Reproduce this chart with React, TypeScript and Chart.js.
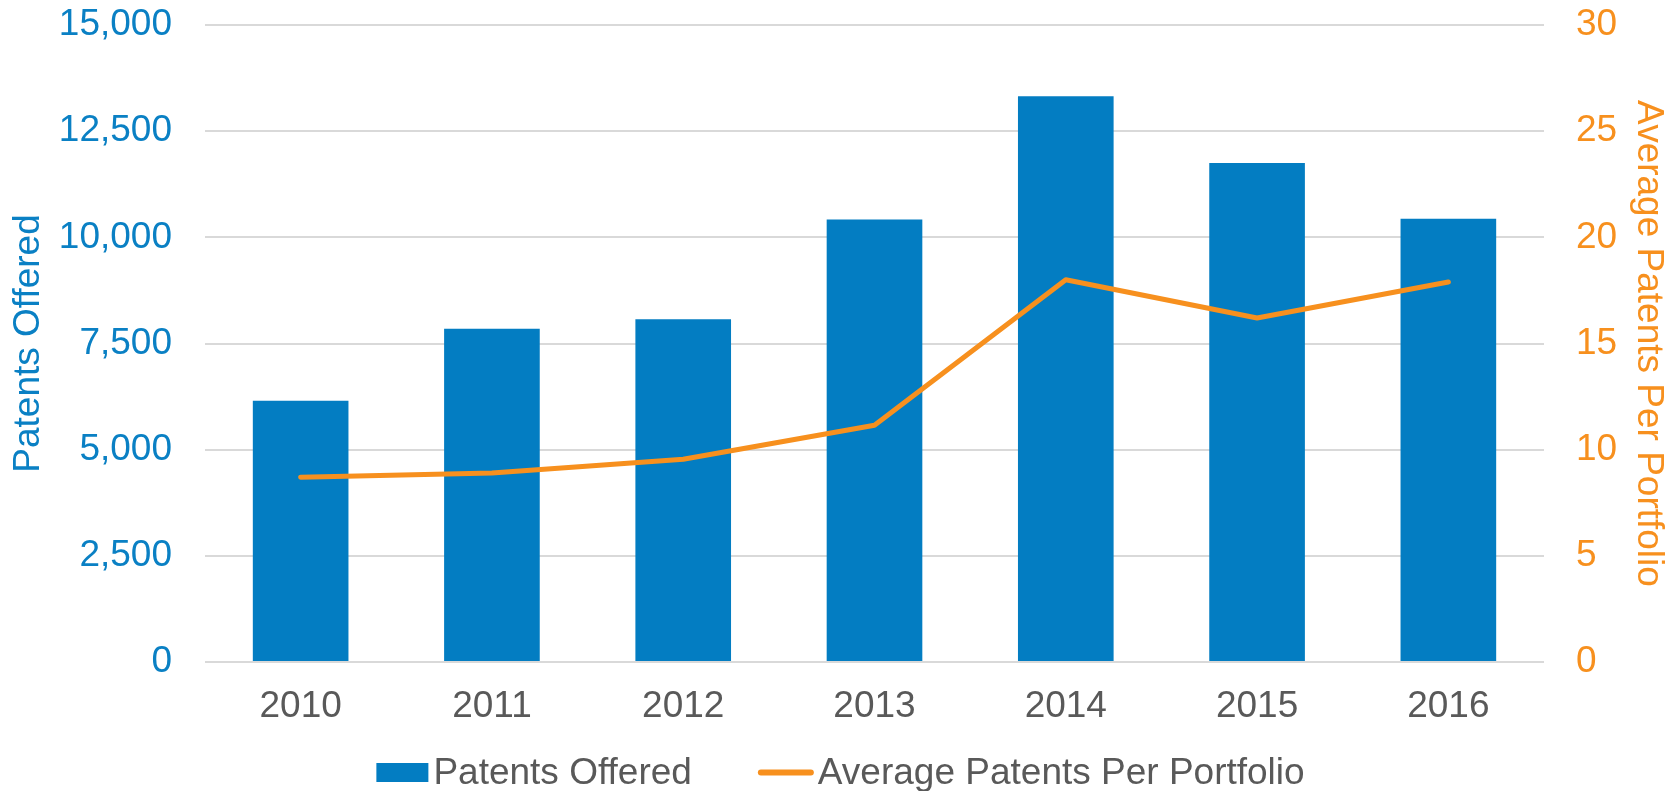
import React, { useEffect, useRef } from "react";
import { Chart, registerables } from "chart.js";

Chart.register(...registerables);

const years = ["2010", "2011", "2012", "2013", "2014", "2015", "2016"];
const patentsOffered = [6150, 7850, 8070, 10420, 13320, 11750, 10440];
const avgPatentsPerPortfolio = [8.7, 8.9, 9.55, 11.15, 18.0, 16.2, 17.9];
const leftAxisMax = 15000;
const leftAxisStep = 2500;
const rightAxisMax = 30;
const rightAxisStep = 5;

const BLUE = "#037DC2";
const BLUE_TEXT = "#0A80C4";
const ORANGE = "#F7901E";
const GREY_TEXT = "#595959";
const GRID = "#D9D9D9";
const FONT = '"Liberation Sans", Arial, sans-serif';
const FS = 37;

const legendLabels = ["Patents Offered", "Average Patents Per Portfolio"];

const customLegend = {
  id: "customLegend",
  afterDraw(chart: any) {
    const ctx = chart.ctx;
    ctx.save();
    ctx.font = `${FS}px ${FONT}`;
    const w1 = ctx.measureText(legendLabels[0]).width;
    const w2 = ctx.measureText(legendLabels[1]).width;
    const boxW = 52, gap1 = 5, itemGap = 66, lineW = 56, gap2 = 4;
    const total = boxW + gap1 + w1 + itemGap + lineW + gap2 + w2;
    let x = chart.width / 2 - total / 2 + 2;
    const baseline = chart.height - 7;
    const cy = chart.height - 18.5;
    ctx.fillStyle = BLUE;
    ctx.fillRect(x, cy - 9.5, boxW, 19);
    x += boxW + gap1;
    ctx.fillStyle = GREY_TEXT;
    ctx.textBaseline = "alphabetic";
    ctx.textAlign = "left";
    ctx.fillText(legendLabels[0], x, baseline);
    x += w1 + itemGap;
    ctx.strokeStyle = ORANGE;
    ctx.lineWidth = 6;
    ctx.lineCap = "round";
    ctx.beginPath();
    ctx.moveTo(x + 3, cy);
    ctx.lineTo(x + lineW - 3, cy);
    ctx.stroke();
    x += lineW + gap2;
    ctx.fillStyle = GREY_TEXT;
    ctx.fillText(legendLabels[1], x, baseline);
    ctx.restore();
  },
};

export default function App() {
  const canvasRef = useRef<HTMLCanvasElement | null>(null);

  useEffect(() => {
    if (!canvasRef.current) return;
    const chart = new Chart(canvasRef.current, {
      type: "bar",
      data: {
        labels: years,
        datasets: [
          {
            type: "line",
            label: legendLabels[1],
            data: avgPatentsPerPortfolio,
            yAxisID: "y1",
            borderColor: ORANGE,
            backgroundColor: ORANGE,
            borderWidth: 5,
            pointRadius: 0,
            borderCapStyle: "round",
            borderJoinStyle: "round",
            tension: 0,
            order: 0,
          } as any,
          {
            type: "bar",
            label: legendLabels[0],
            data: patentsOffered,
            yAxisID: "y",
            backgroundColor: BLUE,
            categoryPercentage: 1,
            barPercentage: 0.5,
            order: 1,
          },
        ],
      },
      options: {
        animation: false,
        responsive: true,
        maintainAspectRatio: false,
        layout: { padding: { top: 25, bottom: 49, left: 0, right: 0 } },
        plugins: {
          legend: { display: false },
          tooltip: { enabled: false },
        },
        scales: {
          x: {
            grid: { display: false, drawTicks: false },
            border: { display: false },
            ticks: {
              color: GREY_TEXT,
              font: { family: FONT, size: FS },
              padding: 23,
            },
            afterFit(scale: any) {
              scale.height = 80;
              scale.paddingLeft = 0;
              scale.paddingRight = 0;
            },
          },
          y: {
            position: "left",
            min: 0,
            max: leftAxisMax,
            grid: { color: GRID, lineWidth: 2, drawTicks: false },
            border: { display: false },
            ticks: {
              stepSize: leftAxisStep,
              color: BLUE_TEXT,
              font: { family: FONT, size: FS },
              padding: 33,
              callback: (v: any) => Number(v).toLocaleString("en-US"),
            },
            title: {
              display: true,
              text: "Patents Offered",
              color: BLUE_TEXT,
              font: { family: FONT, size: FS },
              padding: 7,
            },
            afterFit(scale: any) {
              scale.width = 205;
              scale.paddingTop = 0;
              scale.paddingBottom = 0;
            },
          },
          y1: {
            position: "right",
            min: 0,
            max: rightAxisMax,
            grid: { display: false, drawTicks: false },
            border: { display: false },
            ticks: {
              stepSize: rightAxisStep,
              color: ORANGE,
              font: { family: FONT, size: FS },
              padding: 32,
            },
            title: {
              display: true,
              text: "Average Patents Per Portfolio",
              color: ORANGE,
              font: { family: FONT, size: FS },
              padding: 7,
            },
            afterFit(scale: any) {
              scale.width = 133;
              scale.paddingTop = 0;
              scale.paddingBottom = 0;
            },
          },
        },
      },
      plugins: [customLegend],
    });
    return () => chart.destroy();
  }, []);

  return (
    <div style={{ position: "absolute", left: 0, top: 0, width: 1677, height: 791 }}>
      <canvas ref={canvasRef} />
    </div>
  );
}
